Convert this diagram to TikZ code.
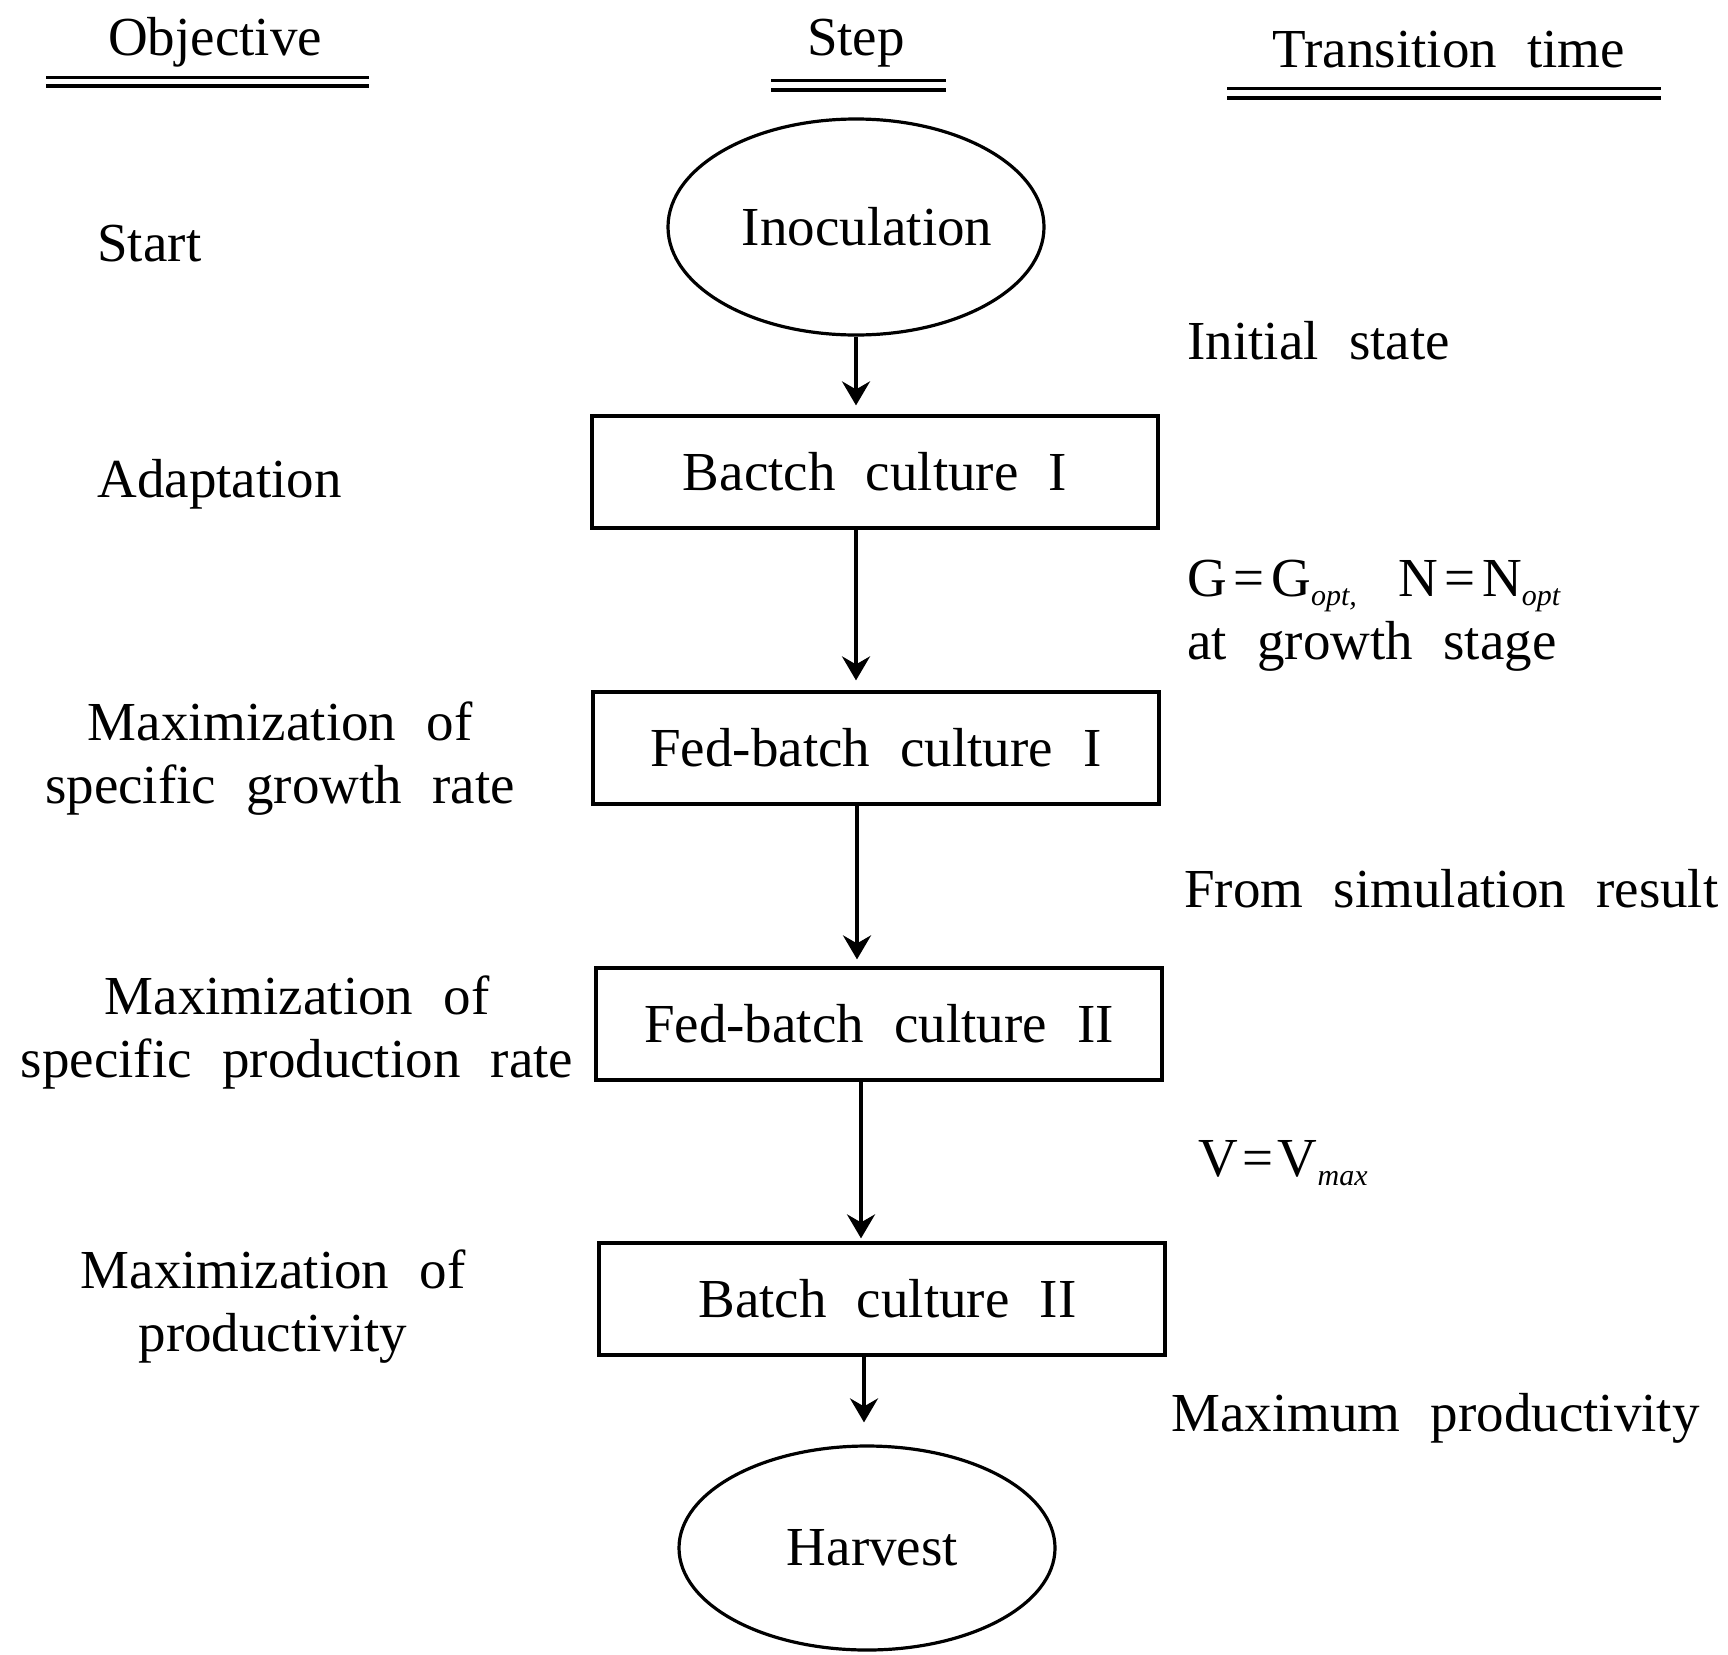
\documentclass[tikz,border=0pt]{standalone}
\usepackage{fontspec}
\setmainfont{Liberation Serif}
\usetikzlibrary{arrows.meta,shapes.geometric}
\newcommand{\mysub}[1]{\raisebox{-0.35ex}{\fontsize{15}{15}\selectfont\itshape #1}}
\newcommand{\myfont}{\fontsize{27.5}{31.5}\selectfont\spaceskip=0.55em plus 0.05em\relax}
\newcommand{\shifted}[2]{\kern#1#2\kern-#1}
\tikzset{
  txt/.style={inner sep=0pt, font=\myfont},
  boxn/.style={txt, draw, line width=1.6pt, minimum width=283pt, minimum height=56pt},
  ell/.style={txt, draw, ellipse, line width=1.6pt, minimum width=188pt, minimum height=108pt},
  arr/.style={line width=1.8pt, -{Stealth[length=12pt,width=14pt,inset=4pt]}},
  uline/.style={line width=1.5pt},
}
\begin{document}
\begin{tikzpicture}[x=0.5pt,y=-0.5pt]
\useasboundingbox (0,0) rectangle (1728,1654);
% headers
\node[txt] (hobj) at (215,42) {Objective};
\node[txt] (hstep) at (856,43) {Step};
\node[txt] (htt) at (1449,50) {Transition time};
\draw[uline] (46,77) -- (369,77);
\draw[uline,line width=2pt] (46,86) -- (369,86);
\draw[uline] (771,80) -- (946,80);
\draw[uline,line width=2pt] (771,90) -- (946,90);
\draw[uline] (1227,88) -- (1661,88);
\draw[uline,line width=2pt] (1227,98) -- (1661,98);
% steps
\node[ell] (inoc) at (856,227) {\shifted{5.5pt}{Inoculation}};
\node[boxn] (b1) at (875,472) {Bactch culture I};
\node[boxn] (b2) at (876,748) {Fed-batch culture I};
\node[boxn] (b3) at (879,1024) {Fed-batch culture II};
\node[boxn] (b4) at (882,1299) {\shifted{2.75pt}{Batch culture II}};
\node[ell, minimum height=102pt] (harv) at (867,1548) {\shifted{2.75pt}{Harvest}};
% arrows
\draw[arr, shorten >=4.5pt] (inoc.south) -- (inoc.south |- b1.north);
\draw[arr, shorten >=5pt] (b1.south -| inoc.south) -- (b2.north -| inoc.south);
\draw[arr, shorten >=3.5pt] ([xshift=0.5pt]b2.south -| inoc.south) -- ([xshift=0.5pt]b3.north -| inoc.south);
\draw[arr, shorten >=1.5pt] ([xshift=2.5pt]b3.south -| inoc.south) -- ([xshift=2.5pt]b4.north -| inoc.south);
\draw[arr, shorten >=11pt] ([xshift=4pt]b4.south -| inoc.south) -- ([xshift=4pt]harv.north -| inoc.south);
% objectives
\node[txt, anchor=west] (o1) at (97,244) {Start};
\node[txt, anchor=west] (o2) at (97,484) {Adaptation};
\node[txt, align=center] (o3) at (280,759) {Maximization of\\specific growth rate};
\node[txt, align=center] (o4) at (297,1032) {Maximization of\\specific production rate};
\node[txt, align=center] (o5) at (273,1307) {Maximization of\\productivity};
% transition times
\node[txt, anchor=west] (t1) at (1187,341) {Initial state};
\node[txt, align=left, anchor=west] (t2) at (1187,616) {G\kern0.12em=\kern0.12emG\mysub{opt,}\hspace{0.75em}N\kern0.12em=\kern0.12emN\mysub{opt}\\at growth stage};
\node[txt, anchor=west] (t3) at (1184,889) {From simulation result};
\node[txt, anchor=west] (t4) at (1198,1163) {V\kern0.08em=\kern0.08emV\mysub{max}};
\node[txt, anchor=west] (t5) at (1171,1418) {Maximum productivity};
\end{tikzpicture}
\end{document}
